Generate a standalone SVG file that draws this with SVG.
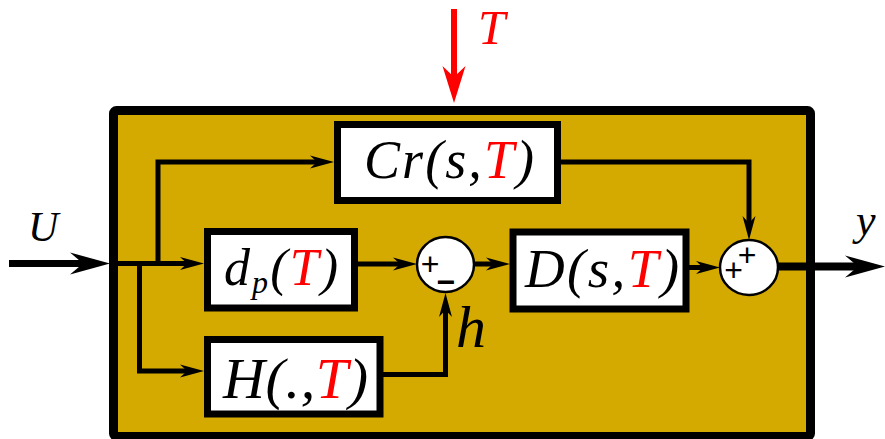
<svg xmlns="http://www.w3.org/2000/svg" width="885" height="439" viewBox="0 0 885 439">
<style>
.blk{fill:#fff;stroke:#000;stroke-width:7}
.sum{fill:#fff;stroke:#000;stroke-width:2.5}
.ln{fill:none;stroke:#000;stroke-width:5;stroke-linejoin:miter}
.lab{font-family:"Liberation Serif","Times New Roman",serif;font-style:italic;fill:#000}
.red{fill:#ff0000}
.sg{font-family:"Liberation Sans",Arial,sans-serif;font-size:32px;fill:#000;text-anchor:middle}
</style>
<defs>
<marker id="aS" viewBox="-25 -8 27 16" refX="-14" refY="0" markerWidth="27" markerHeight="16" markerUnits="userSpaceOnUse" orient="auto">
<path d="M0,0 L-24,-6.5 L-17,0 L-24,6.5 Z" fill="#000"/>
</marker>
<marker id="aB" viewBox="-42 -12 44 24" refX="-20" refY="0" markerWidth="44" markerHeight="24" markerUnits="userSpaceOnUse" orient="auto">
<path d="M0,0 L-40,-11 L-27,0 L-40,11 Z" fill="#000"/>
</marker>
<marker id="aR" viewBox="-42 -13 44 26" refX="-20" refY="0" markerWidth="44" markerHeight="26" markerUnits="userSpaceOnUse" orient="auto">
<path d="M0,0 L-37,-11.5 L-26,0 L-37,11.5 Z" fill="#ff0000"/>
</marker>
</defs>
<g id="system">
<rect x="113.5" y="110.5" width="697" height="326" rx="3" fill="#D4A900" stroke="#000" stroke-width="9"/>
</g>
<g id="connectors">
<path d="M9,263.5 H90" fill="none" stroke="#000" stroke-width="7" marker-end="url(#aB)"/>
<path class="ln" d="M110,263.5 H190" marker-end="url(#aS)"/>
<path class="ln" d="M158,263.5 V162 H320" marker-end="url(#aS)"/>
<path class="ln" d="M139.5,263.5 V371 H190" marker-end="url(#aS)"/>
<path class="ln" d="M358,264 H403" marker-end="url(#aS)"/>
<path class="ln" d="M474,264 H496" marker-end="url(#aS)"/>
<path class="ln" d="M689,267.5 H706" marker-end="url(#aS)"/>
<path class="ln" d="M561,162 H749 V226" marker-end="url(#aS)"/>
<path class="ln" d="M383,374.5 H445.5 V307" marker-end="url(#aS)"/>
<path d="M778,266.5 H865" fill="none" stroke="#000" stroke-width="8" marker-end="url(#aB)"/>
<path d="M454,9 V83" fill="none" stroke="#ff0000" stroke-width="6" marker-end="url(#aR)"/>
</g>
<g id="Cr">
<rect class="blk" x="337.5" y="124.5" width="220" height="76"/>
<text class="lab" x="364" y="178" font-size="54" textLength="170" lengthAdjust="spacing">Cr(s,<tspan class="red">T</tspan>)</text>
</g>
<g id="dp">
<rect class="blk" x="207.5" y="231.5" width="147" height="76.5"/>
<text class="lab" x="224" y="285" font-size="52" textLength="114" lengthAdjust="spacing">d<tspan font-size="32" dy="8">p</tspan><tspan dy="-8">(</tspan><tspan class="red">T</tspan>)</text>
</g>
<g id="D">
<rect class="blk" x="513" y="232" width="173" height="77"/>
<text class="lab" x="525" y="287" font-size="55" textLength="154" lengthAdjust="spacing">D(s,<tspan class="red">T</tspan>)</text>
</g>
<g id="H">
<rect class="blk" x="207.5" y="339.5" width="172.5" height="74.5"/>
<text class="lab" x="223" y="398" font-size="58" textLength="145" lengthAdjust="spacing">H(.,<tspan class="red">T</tspan>)</text>
</g>
<g id="sum1">
<ellipse class="sum" cx="445.5" cy="264.5" rx="28.5" ry="27.5"/>
<text class="sg" x="430" y="275">+</text>
<text class="sg" x="446" y="293" font-weight="bold" font-size="36">−</text>
</g>
<g id="sum2">
<ellipse class="sum" cx="749" cy="267.5" rx="29" ry="27.5"/>
<text class="sg" x="747" y="266">+</text>
<text class="sg" x="733.5" y="281">+</text>
</g>
<g id="labels">
<text class="lab" x="28" y="241" font-size="42">U</text>
<text class="lab" x="856" y="235" font-size="44">y</text>
<text class="lab" x="456" y="347" font-size="60">h</text>
<text class="lab red" x="478" y="44" font-size="49">T</text>
</g>
</svg>
